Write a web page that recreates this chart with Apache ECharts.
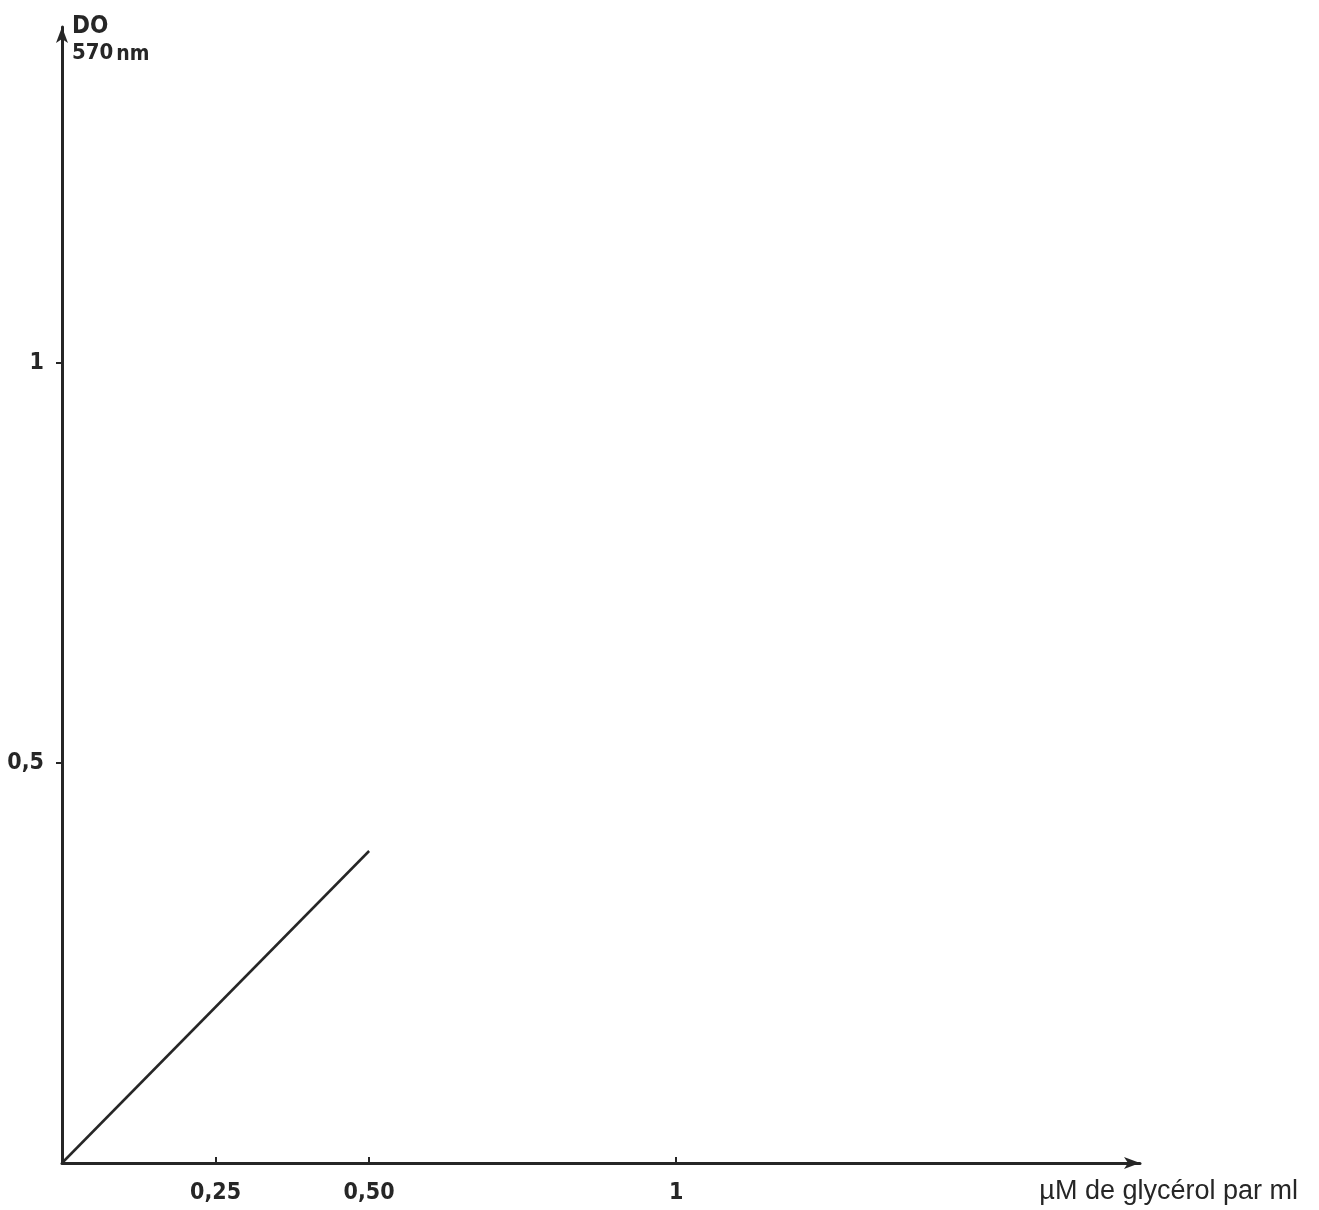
<!DOCTYPE html>
<html>
<head>
<meta charset="utf-8">
<title>DO 570nm - glycérol</title>
<script src="https://cdn.jsdelivr.net/npm/echarts@6/dist/echarts.min.js"></script>
<style>
  html, body { margin: 0; padding: 0; background: #fff; }
  #chart { width: 1319px; height: 1210px; }
</style>
</head>
<body>
<div id="chart"></div>
<script>
// standard curve: glycerol (µM/ml) vs optical density at 570 nm
const glycerol = [0, 0.5];
const od = [0, 0.39];

const xTicks = [0.25, 0.5, 1];
const xTickLabels = ['0,25', '0,50', '1'];
const yTicks = [0.5, 1];
const yTickLabels = ['0,5', '1'];

const ink = '#262626';
const font = "'DejaVu Sans Condensed', 'Liberation Sans Narrow', sans-serif";

const myChart = echarts.init(document.getElementById('chart'));

const option = {
  animation: false,
  backgroundColor: '#fff',
  grid: { left: 62, right: 179, top: 27, bottom: 47 },
  xAxis: {
    type: 'value',
    min: 0,
    max: 1.755,
    name: 'µM de glycérol par ml',
    nameLocation: 'end',
    nameGap: 158,
    nameTextStyle: {
      color: ink, fontFamily: "'Liberation Sans', 'Noto Sans', sans-serif", fontSize: 27,
      align: 'right', verticalAlign: 'top', padding: [15, 0, 0, 0]
    },
    axisLine: {
      show: true,
      symbol: ['none', 'arrow'],
      symbolSize: [9, 16],
      lineStyle: { color: ink, width: 3 }
    },
    axisTick: {
      show: true, inside: true, length: 6,
      customValues: xTicks,
      lineStyle: { color: ink, width: 2 }
    },
    axisLabel: {
      customValues: xTicks,
      formatter: v => xTickLabels[xTicks.indexOf(v)],
      margin: 19,
      color: ink, fontFamily: font, fontSize: 23, fontWeight: 'bold'
    },
    splitLine: { show: false }
  },
  yAxis: {
    type: 'value',
    min: 0,
    max: 1.42,
    name: '{a|DO}\n{b|570}{c|nm}',
    nameLocation: 'end',
    nameGap: 13,
    nameTextStyle: {
      align: 'left', verticalAlign: 'top', padding: [0, 0, 0, 10],
      rich: {
        a: { color: ink, fontFamily: font, fontSize: 24, fontWeight: 'bold', lineHeight: 26 },
        b: { color: ink, fontFamily: font, fontSize: 22, fontWeight: 'bold', lineHeight: 26 },
        c: { color: ink, fontFamily: font, fontSize: 21, fontWeight: 'bold', lineHeight: 26, padding: [3, 0, 0, 3] }
      }
    },
    axisLine: {
      show: true,
      symbol: ['none', 'arrow'],
      symbolSize: [9, 16],
      lineStyle: { color: ink, width: 3 }
    },
    axisTick: {
      show: true, inside: false, length: 6,
      customValues: yTicks,
      lineStyle: { color: ink, width: 2 }
    },
    axisLabel: {
      customValues: yTicks,
      formatter: v => yTickLabels[yTicks.indexOf(v)],
      margin: 18,
      color: ink, fontFamily: font, fontSize: 23, fontWeight: 'bold'
    },
    splitLine: { show: false }
  },
  series: [
    {
      name: 'DO 570nm',
      type: 'line',
      data: glycerol.map((x, i) => [x, od[i]]),
      showSymbol: false,
      lineStyle: { color: ink, width: 2.5 }
    }
  ]
};

myChart.setOption(option);
</script>
</body>
</html>
